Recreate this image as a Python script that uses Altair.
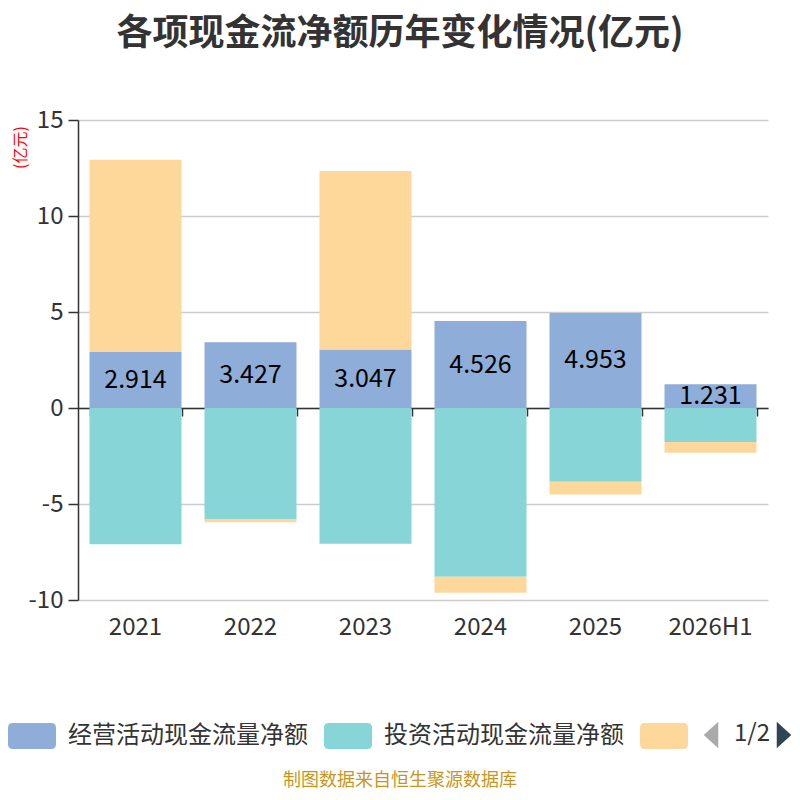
import altair as alt
import pandas as pd

FONT = "Noto Sans CJK SC"

years = ["2021", "2022", "2023", "2024", "2025", "2026H1"]
names = ["经营活动现金流量净额", "投资活动现金流量净额", "筹资活动现金流量净额"]
colors = ["#8FADD9", "#88D5D8", "#FED89A"]
operating = [2.914, 3.427, 3.047, 4.526, 4.953, 1.231]
investing = [-7.10, -5.78, -7.07, -8.79, -3.84, -1.77]
financing = [10.01, -0.17, 9.30, -0.83, -0.66, -0.56]
y_ticks = [-10, -5, 0, 5, 10, 15]

rows = []
for i, yr in enumerate(years):
    for k, (n, vals) in enumerate(zip(names, [operating, investing, financing])):
        rows.append({"year": yr, "series": n, "k": k, "value": vals[i]})
df = pd.DataFrame(rows)
op_df = pd.DataFrame({"year": years, "value": operating})

xscale = alt.Scale(domain=years, paddingInner=0.2, paddingOuter=0.1)
yscale = alt.Scale(domain=[-10, 15], nice=False)

rect_path = ("M-0.8,-0.54 H0.8 Q1,-0.54 1,-0.34 V0.34 Q1,0.54 0.8,0.54 "
             "H-0.8 Q-1,0.54 -1,0.34 V-0.34 Q-1,-0.54 -0.8,-0.54 Z")
tri_left = "M0.55,-1 L-0.55,0 L0.55,1 Z"
tri_right = "M-0.55,-1 L0.55,0 L-0.55,1 Z"

yaxis = alt.Axis(values=y_ticks, title="(亿元)", titleColor="red", titleFontSize=16,
                 titleFontWeight="normal", titleFont=FONT, titleAngle=270,
                 titleX=-58, titleY=27, titleAlign="center", titleBaseline="middle",
                 grid=True, gridColor="#cccccc", gridWidth=1.3,
                 domainColor="#333", domainWidth=1.5, tickColor="#333", tickSize=10,
                 tickWidth=1.5, labelPadding=5, labelFontSize=24, labelColor="#333",
                 labelFont=FONT,
                 labelExpr="datum.value < 0 ? '-' + abs(datum.value) : '' + datum.value")

bars = alt.Chart(df).mark_bar().encode(
    x=alt.X("year:N", scale=xscale, sort=years,
            axis=alt.Axis(title=None, labelAngle=0, labelFontSize=24, labelColor="#333",
                          labelFont=FONT, domain=False, ticks=False, labelPadding=15,
                          grid=False, orient="bottom")),
    y=alt.Y("value:Q", stack="zero", scale=yscale, axis=yaxis),
    color=alt.Color("series:N", scale=alt.Scale(domain=names, range=colors),
                    legend=alt.Legend(orient="none", legendX=-70, legendY=592,
                                      direction="horizontal", title=None,
                                      symbolType=rect_path, symbolSize=2304,
                                      symbolStrokeWidth=0, symbolOpacity=1,
                                      labelFontSize=24, labelColor="#333", labelFont=FONT,
                                      labelOffset=12, columnPadding=16, labelLimit=400,
                                      labelExpr="datum.label == '筹资活动现金流量净额' ? '' : datum.label")),
    order=alt.Order("k:Q"),
)

labels = alt.Chart(op_df).transform_calculate(mid="datum.value / 2").mark_text(
    fontSize=25, font=FONT, color="black", baseline="middle"
).encode(
    x=alt.X("year:N", scale=xscale, sort=years,
            axis=alt.Axis(title=None, labels=False, domain=True, domainColor="#333",
                          domainWidth=1.5, ticks=True, tickSize=8, tickColor="#333",
                          tickWidth=1.5, tickBand="extent", offset=-192, grid=False,
                          orient="bottom")),
    y=alt.Y("mid:Q", scale=yscale, axis=yaxis),
    text=alt.Text("value:Q", format=".3f"),
)

one = pd.DataFrame({"t": [""]})
pager_l = alt.Chart(one).mark_point(shape=tri_left, filled=True, color="#aaaaaa",
                                    size=700, opacity=1, strokeWidth=0).encode(
    x=alt.value(633), y=alt.value(615))
pager_t = alt.Chart(one).mark_text(text="1/2", fontSize=24, font=FONT, color="#333",
                                   baseline="middle").encode(
    x=alt.value(674), y=alt.value(614))
pager_r = alt.Chart(one).mark_point(shape=tri_right, filled=True, color="#2f4554",
                                    size=700, opacity=1, strokeWidth=0).encode(
    x=alt.value(706), y=alt.value(615))
source = alt.Chart(one).mark_text(text="制图数据来自恒生聚源数据库", fontSize=18, font=FONT,
                                  color="#C8961E", baseline="middle").encode(
    x=alt.value(322), y=alt.value(661))

chart = alt.layer(bars, labels, pager_l, pager_t, pager_r, source).resolve_axis(
    x="independent"
).properties(
    width=690, height=480,
    padding={"left": 70, "top": 112, "right": 24, "bottom": 192},
    autosize=alt.AutoSizeParams(type="none"),
    title=alt.TitleParams("各项现金流净额历年变化情况(亿元)", fontSize=36, fontWeight="bold",
                          font=FONT, color="#333", anchor="middle", dx=-23, offset=55),
).configure_view(strokeWidth=0)

chart.save("out.html", embed_options={"renderer": "svg", "actions": False})
